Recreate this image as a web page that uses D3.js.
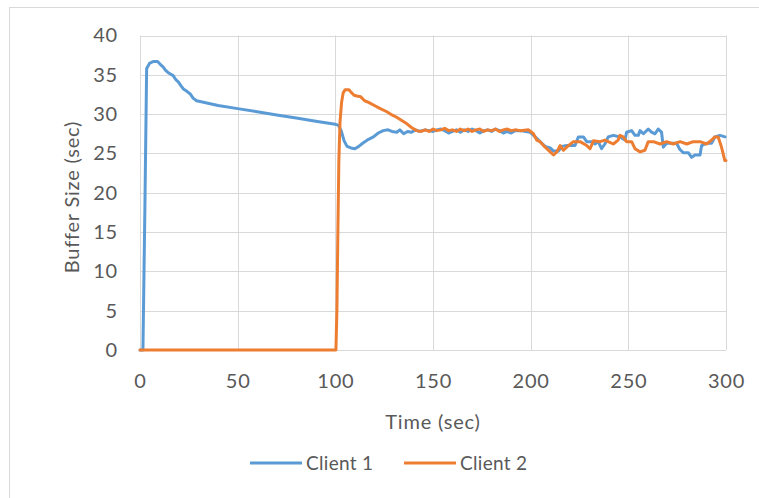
<!DOCTYPE html>
<html>
<head>
<meta charset="utf-8">
<script src="https://cdn.jsdelivr.net/npm/d3@7"></script>
<style>
  html, body { margin: 0; padding: 0; background: #fff; }
  svg { display: block; font-family: Lato, "Open Sans", sans-serif; }
</style>
</head>
<body>
<svg id="chart" width="759" height="498"></svg>
<script>
// Buffer occupancy of two streaming clients over time
const xTicks = [0, 50, 100, 150, 200, 250, 300];
const yTicks = [0, 5, 10, 15, 20, 25, 30, 35, 40];
const seriesNames = ["Client 1", "Client 2"];
const seriesColors = ["#5B9BD5", "#ED7D31"];

const client1Time = [
  0, 1.5, 2.5, 3.4, 5, 7, 9, 10.5, 11.8, 13, 14.3, 15.6, 17, 18.3, 19.6, 21, 22.2, 24, 25.6, 27.3, 29,
  40, 50, 60, 70, 80, 90, 100, 101.5, 103, 104.5, 106, 108, 110, 112, 114, 117, 119.5, 122, 124.5,
  127, 129, 131.5, 133, 135, 137, 139, 141, 143, 146, 148, 150, 152, 154, 156, 158, 160,
  162, 164, 166, 168, 170, 172, 174, 176, 178, 180, 182, 184, 186, 188, 190, 192, 194.6,
  199.7, 202.3, 204.8, 207.4, 210, 211.7, 214.2, 215.9, 218.5, 222.7, 224.4, 227, 228.7,
  231.2, 232.9, 234.6, 236.3, 238, 239.7, 242.3, 245.7, 248.3, 249.1, 251.7, 253.4, 255.1,
  256, 257.7, 260.2, 261.9, 263.6, 265.3, 267, 267.9, 269.6, 272.1, 274.7, 276.4, 278.1,
  280.7, 282.4, 284.1, 286.7, 287.5, 290.1, 292.6, 294.3, 296.9, 299.5
];
const client1Value = [
  0, 0, 18, 35.8, 36.5, 36.7, 36.7, 36.3, 36.0, 35.6, 35.3, 35.1, 34.9, 34.4, 34.1, 33.6, 33.2, 32.9, 32.6, 32.0, 31.7,
  31.1, 30.7, 30.3, 29.9, 29.5, 29.1, 28.7, 28.6, 27.9, 26.6, 25.9, 25.7, 25.6, 25.9, 26.3, 26.8, 27.1, 27.6, 27.9,
  28.0, 27.8, 27.7, 28.0, 27.5, 27.8, 27.7, 28.0, 27.8, 28.0, 27.9, 27.8, 28.0, 28.1, 27.9, 27.6, 27.8,
  28.0, 27.7, 28.0, 27.8, 28.1, 27.9, 27.6, 27.9, 28.0, 27.8, 28.1, 27.9, 27.6, 27.8, 27.6, 27.9, 27.9,
  27.7, 27.1, 26.5, 25.9, 25.7, 25.3, 25.3, 25.9, 26.0, 26.0, 27.1, 27.1, 26.5,
  26.5, 26.2, 26.5, 25.6, 26.2, 27.1, 27.3, 27.1, 26.7, 27.7, 27.9, 27.3, 27.3,
  27.9, 27.5, 28.1, 27.7, 27.5, 28.1, 27.7, 25.8, 26.3, 26.3, 26.3, 25.5, 25.1,
  25.1, 24.5, 24.8, 24.8, 26.0, 26.3, 26.3, 27.1, 27.3, 27.1
];

const client2Time = [
  0, 100.3, 100.8, 101.3, 101.8, 102.4, 103.2, 104, 105, 107, 108, 109.6, 111, 113, 115, 117, 120, 123,
  126.4, 129, 131.4, 134, 136.5, 139, 141.6, 144, 146, 148, 150, 152, 154, 156, 158, 160,
  162, 164, 166, 168, 170, 172, 174, 176, 178, 180, 182, 184, 186, 188, 190, 192, 194.6,
  198.9, 201.4, 203.1, 204.8, 207.4, 210, 211.7, 213.4, 215.1, 216.8, 219.3, 221.9, 225.3,
  228.7, 230.4, 232.1, 235.5, 238, 239.7, 242.3, 244.8, 245.7, 247.4, 249.1, 251.7, 253.4,
  256, 258.5, 260.2, 262.8, 266.2, 269.6, 273, 276.5, 279.9, 283.3, 286.7, 290.1, 292.6,
  294.3, 296, 297.7, 299.4, 300
];
const client2Value = [
  0, 0, 5, 15, 24, 29, 31.5, 32.7, 33.1, 33.1, 32.8, 32.4, 32.3, 32.2, 31.7, 31.5, 31.1, 30.7,
  30.3, 29.9, 29.6, 29.2, 28.8, 28.3, 27.9, 27.8, 28.0, 27.8, 28.1, 27.9, 28.0, 28.2, 27.9, 28.0,
  27.8, 28.1, 27.9, 28.1, 27.8, 28.0, 28.1, 27.8, 28.0, 27.9, 28.1, 27.8, 28.0, 28.1, 27.9, 28.0, 27.9,
  28.0, 27.5, 26.7, 26.5, 25.8, 25.2, 24.8, 25.2, 26.0, 25.4, 26.0, 26.5, 26.5,
  26.0, 25.6, 26.6, 26.5, 26.7, 26.5, 26.2, 26.7, 27.3, 27.1, 26.5, 26.5, 25.6,
  25.2, 25.4, 26.5, 26.5, 26.2, 26.5, 26.2, 26.5, 26.2, 26.5, 26.5, 26.2, 26.7,
  27.1, 27.1, 25.8, 24.1, 24.1
];

const svg = d3.select("#chart");
const plot = { left: 140, right: 726, top: 35.5, bottom: 350 };
const textColor = "#595959";
const fontSize = "20px";
const spacing = "0.8px";

const x = d3.scaleLinear().domain([0, 300]).range([plot.left, plot.right]);
const y = d3.scaleLinear().domain([0, 40]).range([plot.bottom, plot.top]);

// outer chart frame
svg.append("rect")
  .attr("x", 9.5).attr("y", 7.5)
  .attr("width", 760).attr("height", 520)
  .attr("fill", "none").attr("stroke", "#d9d9d9").attr("stroke-width", 1);

// gridlines
const grid = svg.append("g").attr("stroke", "#d9d9d9").attr("stroke-width", 1);
grid.selectAll("line.h").data(yTicks).join("line")
  .attr("class", "h")
  .attr("x1", plot.left).attr("x2", plot.right)
  .attr("y1", d => Math.round(y(d)) + 0.5).attr("y2", d => Math.round(y(d)) + 0.5);
grid.selectAll("line.v").data(xTicks).join("line")
  .attr("class", "v")
  .attr("y1", plot.top).attr("y2", plot.bottom)
  .attr("x1", d => Math.round(x(d)) + 0.5).attr("x2", d => Math.round(x(d)) + 0.5);

// axes (labels only, lines come from the grid)
const xAxis = svg.append("g")
  .attr("transform", `translate(0,${plot.bottom + 31})`)
  .call(d3.axisBottom(x).tickValues(xTicks).tickSize(0).tickPadding(0));
const yAxis = svg.append("g")
  .attr("transform", `translate(${plot.left - 22},0)`)
  .call(d3.axisLeft(y).tickValues(yTicks).tickSize(0).tickPadding(0));
[xAxis, yAxis].forEach(a => {
  a.select(".domain").remove();
  a.selectAll("text")
    .attr("fill", textColor)
    .style("font-family", "Lato, 'Open Sans', sans-serif")
    .style("font-size", fontSize)
    .style("letter-spacing", spacing);
});
xAxis.selectAll("text").attr("dy", "0.35em");

// axis titles
svg.append("text")
  .attr("x", 433).attr("y", 422).attr("dy", "0.35em")
  .attr("text-anchor", "middle").attr("fill", textColor)
  .style("font-size", fontSize).style("letter-spacing", spacing).text("Time (sec)");
svg.append("text")
  .attr("transform", `translate(72,197) rotate(-90)`)
  .attr("dy", "0.35em")
  .attr("text-anchor", "middle").attr("fill", textColor)
  .style("font-size", fontSize).style("letter-spacing", spacing).text("Buffer Size (sec)");

// series lines
const series = [
  { name: seriesNames[0], color: seriesColors[0], t: client1Time, v: client1Value },
  { name: seriesNames[1], color: seriesColors[1], t: client2Time, v: client2Value }
];
const line = d3.line().x(d => x(d[0])).y(d => y(d[1]));
series.forEach(s => {
  svg.append("path")
    .datum(d3.zip(s.t, s.v))
    .attr("fill", "none")
    .attr("stroke", s.color)
    .attr("stroke-width", 3)
    .attr("stroke-linejoin", "round")
    .attr("stroke-linecap", "round")
    .attr("d", line);
});

// legend
const legendX = [250, 404];
const legend = svg.append("g");
series.forEach((s, i) => {
  const g = legend.append("g").attr("transform", `translate(${legendX[i]},463)`);
  g.append("line").attr("x1", 0).attr("x2", 52).attr("y1", 0).attr("y2", 0)
    .attr("stroke", s.color).attr("stroke-width", 3);
  g.append("text").attr("x", 56).attr("y", 0).attr("dy", "0.35em")
    .attr("fill", textColor).style("font-size", "19px").style("letter-spacing", "0.3px").text(s.name);
});
</script>
</body>
</html>
